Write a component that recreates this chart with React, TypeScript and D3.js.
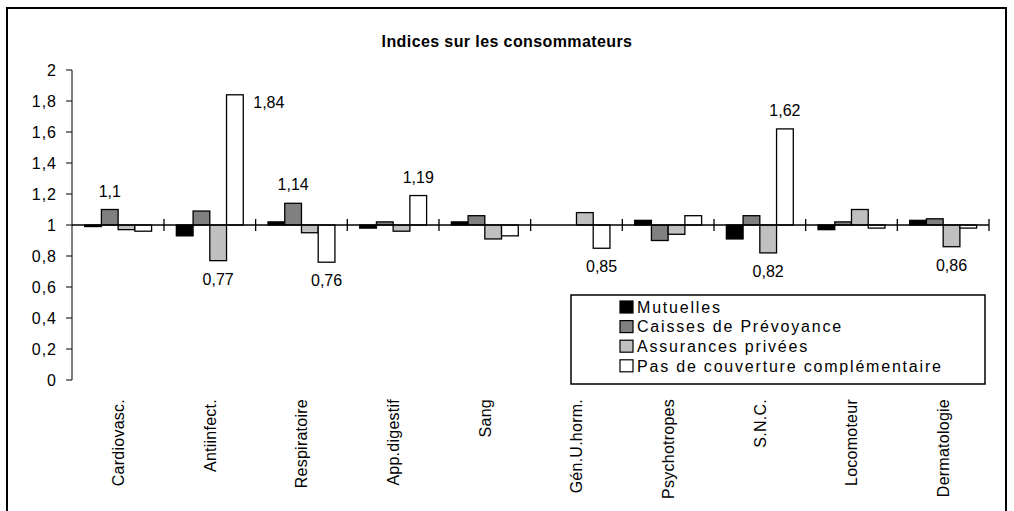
import React from "react";
import * as d3 from "d3";

const title = "Indices sur les consommateurs";
const categories = ["Cardiovasc.", "Antiinfect.", "Respiratoire", "App.digestif", "Sang", "Gén.U.horm.", "Psychotropes", "S.N.C.", "Locomoteur", "Dermatologie"];
const seriesNames = ["Mutuelles", "Caisses de Prévoyance", "Assurances privées", "Pas de couverture complémentaire"];
const seriesColors = ["#000000", "#808080", "#c0c0c0", "#ffffff"];
const mutuelles = [0.99, 0.93, 1.02, 0.98, 1.02, null, 1.03, 0.91, 0.97, 1.03];
const caisses = [1.1, 1.09, 1.14, 1.02, 1.06, null, 0.9, 1.06, 1.02, 1.04];
const assurances = [0.97, 0.77, 0.95, 0.96, 0.91, 1.08, 0.94, 0.82, 1.1, 0.86];
const pasCouverture = [0.96, 1.84, 0.76, 1.19, 0.93, 0.85, 1.06, 1.62, 0.98, 0.98];
const yTicks = [0, 0.2, 0.4, 0.6, 0.8, 1, 1.2, 1.4, 1.6, 1.8, 2];
const baseline = 1;
// labelled bars: [category index, series index, placement]
const dataLabels: [number, number, string][] = [
  [0, 1, "above"], [1, 2, "below"], [1, 3, "right"], [2, 1, "above"], [2, 3, "below"],
  [3, 3, "above"], [5, 3, "below"], [7, 2, "below"], [7, 3, "above"], [9, 2, "below"],
];

const series = [mutuelles, caisses, assurances, pasCouverture];
const fmt = (v: number) => String(v).replace(".", ",");

export default function App() {
  const W = 1014, H = 511;
  const x = d3.scaleBand<string>().domain(categories).range([72.3, 989]).padding(0);
  const inner = d3.scaleBand<number>().domain([0, 1, 2, 3]).range([0, x.bandwidth()]).paddingInner(0).paddingOuter(0.74);
  const y = d3.scaleLinear().domain([0, 2]).range([380, 70]);
  const font = "'Liberation Sans', Arial, sans-serif";
  const y1 = y(baseline);

  return (
    <svg width={W} height={H} style={{ position: "absolute", left: 0, top: 0, background: "#fff" }} fontFamily={font}>
      <rect x={7} y={8} width={999} height={506} fill="#fff" stroke="#000" strokeWidth={2} />
      <text x={507} y={47} textAnchor="middle" fontWeight="bold" fontSize={16} letterSpacing={0.4}>{title}</text>

      {/* y axis */}
      <line x1={72} x2={72} y1={y(0)} y2={y(2)} stroke="#000" strokeWidth={1} />
      {yTicks.map((t) => (
        <g key={t}>
          <line x1={66} x2={72} y1={y(t)} y2={y(t)} stroke="#000" />
          <text x={57} y={y(t)} dy="0.36em" textAnchor="end" fontSize={16} letterSpacing={1}>{fmt(t)}</text>
        </g>
      ))}

      {/* bars */}
      {categories.map((c, ci) => (
        <g key={c}>
          {series.map((s, si) => {
            const v = s[ci];
            if (v == null) return null;
            const bx = (x(c) as number) + (inner(si) as number);
            const top = Math.min(y(v), y1);
            const h = Math.abs(y(v) - y1);
            return <rect key={si} x={bx} y={top} width={inner.bandwidth()} height={h} fill={seriesColors[si]} stroke="#000" strokeWidth={1.3} />;
          })}
        </g>
      ))}

      {/* category axis at 1 */}
      <line x1={72} x2={989} y1={y1} y2={y1} stroke="#000" strokeWidth={1.3} />
      {categories.map((c) => (
        <line key={c} x1={(x(c) as number) + x.bandwidth()} x2={(x(c) as number) + x.bandwidth()} y1={y1 - 6} y2={y1 + 6} stroke="#000" strokeWidth={1.3} />
      ))}
      {categories.map((c) => {
        const cx = (x(c) as number) + x.bandwidth() / 2;
        return (
          <text key={c} transform={`translate(${cx},399) rotate(-90)`} textAnchor="end" dy="0.36em" fontSize={16} letterSpacing={0.25}>{c}</text>
        );
      })}

      {/* data labels */}
      {dataLabels.map(([ci, si, pos]) => {
        const v = series[si][ci] as number;
        const bx = (x(categories[ci]) as number) + (inner(si) as number);
        const bw = inner.bandwidth();
        if (pos === "above") return <text key={`${ci}-${si}`} x={bx + bw / 2} y={y(v) - 13} textAnchor="middle" fontSize={16}>{fmt(v)}</text>;
        if (pos === "below") return <text key={`${ci}-${si}`} x={bx + bw / 2} y={y(v) + 24} textAnchor="middle" fontSize={16}>{fmt(v)}</text>;
        return <text key={`${ci}-${si}`} x={bx + bw + 10} y={y(v) + 13} textAnchor="start" fontSize={16}>{fmt(v)}</text>;
      })}

      {/* legend */}
      <rect x={571} y={295} width={414} height={89} fill="#fff" stroke="#000" strokeWidth={1.5} />
      {seriesNames.map((n, i) => (
        <g key={n} transform={`translate(620,${307 + i * 19.6})`}>
          <rect x={0} y={-6} width={13} height={12} fill={seriesColors[i]} stroke="#000" strokeWidth={1.2} />
          <text x={17} y={0} dy="0.36em" fontSize={16} letterSpacing={1.8}>{n}</text>
        </g>
      ))}
    </svg>
  );
}
